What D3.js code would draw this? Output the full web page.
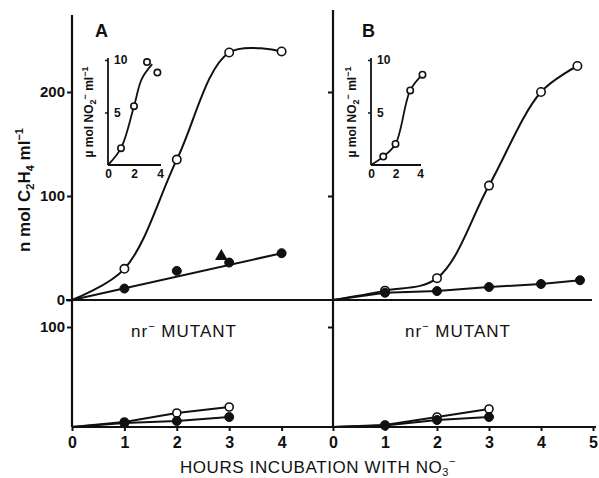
<!DOCTYPE html>
<html>
<head>
<meta charset="utf-8">
<script src="https://cdn.jsdelivr.net/npm/d3@7"></script>
<style>
  body { margin: 0; background: #fff; }
  svg { font-family: 'Liberation Sans', Arial, sans-serif; }
  .axis text { font-weight: bold; font-size: 15px; }
</style>
</head>
<body>
<div id="root"></div>
<script>
// ---- data (hours, value) ----
const hoursA = [0, 1, 2, 3, 4];
const hoursB = [0, 1, 2, 3, 4, 5];
const yTicksTop = [0, 100, 200];
const yTicksBot = [100];
const insetXTicks = [0, 2, 4];
const insetYTicks = [5, 10];

// panel A, wild type (nmol C2H4 / ml)
const openA = [[0, 0], [1, 30], [2, 135], [3, 238], [4, 239]];
const closedA = [[1, 11], [2, 28], [3, 36], [4, 45]];
const closedAFit = [[0, 0], [4, 45]];
const triA = [[2.85, 42]];

// panel B, wild type
const openB = [[0, 0], [1, 9], [2, 21], [3, 110], [4, 200], [4.7, 225]];
const closedB = [[0, 0], [1, 7], [2, 8.6], [3, 12.5], [4, 15.4], [4.75, 19]];

// nr- mutant
const mutOpenA = [[0, 0], [1, 5], [2, 14], [3, 20]];
const mutClosedA = [[0, 0], [1, 4], [2, 6], [3, 10]];
const mutOpenB = [[0, 0], [1, 2], [2, 10], [3, 18]];
const mutClosedB = [[0, 0], [1, 1.5], [2, 7], [3, 10]];

// insets (umol NO2- / ml)
const insetA = [[1, 1.6], [2, 5.6], [3, 9.8], [3.8, 8.8]];
const insetAFit = [[0, 0], [1, 1.6], [2, 5.6], [2.6, 8.2], [3.4, 9.6]];
const insetB = [[0, 0], [1, 0.8], [2, 2], [3.2, 7.1], [4.2, 8.6]];

const svg = d3.select('#root').append('svg')
  .attr('width', 599)
  .attr('height', 478);

// scales
const xA = d3.scaleLinear().domain([0, 5]).range([72, 334]);
const xB = d3.scaleLinear().domain([0, 5]).range([333, 593]);
const yTop = d3.scaleLinear().domain([0, 250]).range([300, 40]);
const yBot = d3.scaleLinear().domain([0, 100]).range([427, 327]);

const ink = '#111';

// axis lines
svg.append('line').attr('x1', 72).attr('x2', 72).attr('y1', 15).attr('y2', 427)
  .attr('stroke', ink).attr('stroke-width', 2.2);
svg.append('line').attr('x1', 333).attr('x2', 333).attr('y1', 10).attr('y2', 427)
  .attr('stroke', ink).attr('stroke-width', 2.2);
svg.append('line').attr('x1', 66).attr('x2', 592).attr('y1', yTop(0)).attr('y2', yTop(0))
  .attr('stroke', ink).attr('stroke-width', 2);
svg.append('line').attr('x1', 72).attr('x2', 596).attr('y1', 427).attr('y2', 427)
  .attr('stroke', ink).attr('stroke-width', 2.2);

// y axes
function leftAxis(scale, x, values, labels) {
  const g = svg.append('g').attr('class', 'axis')
    .attr('transform', `translate(${x},0)`)
    .call(d3.axisLeft(scale).tickValues(values).tickSize(5).tickPadding(2)
      .tickFormat(labels ? d3.format('d') : ''));
  g.select('.domain').remove();
  g.selectAll('line').attr('stroke', ink).attr('stroke-width', 2);
  g.selectAll('text').attr('fill', ink);
}
leftAxis(yTop, 72, yTicksTop, true);
leftAxis(yBot, 72, yTicksBot, true);
leftAxis(yTop, 333, [100, 200], false);
leftAxis(yBot, 333, yTicksBot, false);

// x axes
function bottomAxis(scale, values) {
  const g = svg.append('g').attr('class', 'axis')
    .attr('transform', 'translate(0,427)')
    .call(d3.axisBottom(scale).tickValues(values).tickSize(4).tickPadding(6)
      .tickFormat(d3.format('d')));
  g.select('.domain').remove();
  g.selectAll('line').attr('stroke', ink).attr('stroke-width', 2);
  g.selectAll('text').attr('fill', ink).style('font-size', '16px');
}
bottomAxis(xA, hoursA);
bottomAxis(xB, hoursB);

// series drawing
function series(xs, ys, pts, opts) {
  const line = d3.line()
    .x(d => xs(d[0])).y(d => ys(d[1]))
    .curve(opts.curve || d3.curveLinear);
  if (opts.line !== false) {
    svg.append('path').datum(opts.lineData || pts)
      .attr('d', line)
      .attr('fill', 'none')
      .attr('stroke', ink)
      .attr('stroke-width', opts.sw || 2);
  }
  const dots = opts.noDots ? [] : pts.filter(d => d[0] > 0);
  svg.append('g').selectAll('circle').data(dots)
    .enter().append('circle')
      .attr('cx', d => xs(d[0]))
      .attr('cy', d => ys(d[1]))
      .attr('r', opts.r || 4)
      .attr('fill', opts.open ? '#fff' : ink)
      .attr('stroke', ink)
      .attr('stroke-width', opts.open ? 1.6 : 1);
}

// panel A top
series(xA, yTop, closedA, { lineData: closedAFit, r: 4.5 });
svg.append('g').selectAll('path').data(triA)
  .enter().append('path')
    .attr('d', d3.symbol().type(d3.symbolTriangle).size(70))
    .attr('transform', d => `translate(${xA(d[0])},${yTop(d[1])})`)
    .attr('fill', ink);
series(xA, yTop, openA, { open: true, curve: d3.curveCatmullRom, r: 4.2 });

// panel B top
series(xB, yTop, openB, { open: true, curve: d3.curveCatmullRom, r: 4.2 });
series(xB, yTop, closedB, { r: 4.5 });

// mutants
series(xA, yBot, mutOpenA, { open: true, r: 4 });
series(xA, yBot, mutClosedA, { r: 4.5 });
series(xB, yBot, mutOpenB, { open: true, r: 4 });
series(xB, yBot, mutClosedB, { r: 4.5 });

// insets
function inset(x0, width) {
  const ix = d3.scaleLinear().domain([0, 4]).range([x0, x0 + width]);
  const iy = d3.scaleLinear().domain([0, 10]).range([165, 60]);
  svg.append('line').attr('x1', x0).attr('x2', x0).attr('y1', 58).attr('y2', 165)
    .attr('stroke', ink).attr('stroke-width', 1.8);
  svg.append('line').attr('x1', x0).attr('x2', x0 + width + 1).attr('y1', 165).attr('y2', 165)
    .attr('stroke', ink).attr('stroke-width', 1.8);
  const gx = svg.append('g').attr('transform', 'translate(0,165)')
    .call(d3.axisBottom(ix).tickValues(insetXTicks).tickSize(0).tickPadding(4)
      .tickFormat(d3.format('d')));
  gx.select('.domain').remove();
  gx.selectAll('text').attr('fill', ink).style('font-size', '12px').style('font-weight', 'bold');
  const gy = svg.append('g').attr('transform', `translate(${x0},0)`)
    .call(d3.axisRight(iy).tickValues(insetYTicks).tickSize(-3).tickPadding(6)
      .tickFormat(d3.format('d')));
  gy.select('.domain').remove();
  gy.selectAll('line').attr('stroke', ink).attr('stroke-width', 1.5);
  gy.selectAll('text').attr('fill', ink).style('font-size', '12px').style('font-weight', 'bold');
  const t = svg.append('text')
    .attr('transform', `translate(${x0 - 15},112) rotate(-90)`)
    .attr('text-anchor', 'middle')
    .attr('font-size', 12).attr('font-weight', 'bold').attr('fill', ink);
  t.append('tspan').text('\u00b5 mol NO');
  t.append('tspan').attr('font-size', 9).attr('dy', 3).text('2');
  t.append('tspan').attr('font-size', 9).attr('dy', -8).text('\u2212');
  t.append('tspan').attr('dy', 5).text(' ml');
  t.append('tspan').attr('font-size', 9).attr('dy', -5).text('\u22121');
  return { ix, iy };
}
const sa = inset(108, 52);
series(sa.ix, sa.iy, insetAFit, { curve: d3.curveCatmullRom, noDots: true, sw: 1.8 });
series(sa.ix, sa.iy, insetA, { open: true, line: false, r: 3.2 });
const sb = inset(371, 49);
series(sb.ix, sb.iy, insetB, { open: true, curve: d3.curveCatmullRom, r: 3.2, sw: 1.8 });

// panel letters
svg.append('text').attr('x', 95).attr('y', 37).attr('font-size', 18).attr('font-weight', 'bold')
  .attr('fill', ink).text('A');
svg.append('text').attr('x', 362).attr('y', 37).attr('font-size', 18).attr('font-weight', 'bold')
  .attr('fill', ink).text('B');

// mutant labels
[184, 458].forEach(cx => {
  const t = svg.append('text').attr('x', cx).attr('y', 337)
    .attr('text-anchor', 'middle').attr('font-size', 17).attr('fill', ink)
    .attr('letter-spacing', 1);
  t.append('tspan').text('nr');
  t.append('tspan').attr('font-size', 11).attr('dy', -7).text('\u2212');
  t.append('tspan').attr('dy', 7).text('  MUTANT');
});

// x axis title
const xt = svg.append('text').attr('x', 318).attr('y', 473)
  .attr('text-anchor', 'middle').attr('font-size', 17).attr('fill', ink)
  .attr('letter-spacing', 0.6);
xt.append('tspan').text('HOURS  INCUBATION  WITH  NO');
xt.append('tspan').attr('font-size', 11).attr('dy', 3).text('3');
xt.append('tspan').attr('font-size', 11).attr('dy', -11).text('\u2212');

// y axis title
const yt = svg.append('text')
  .attr('transform', 'translate(30,190) rotate(-90)')
  .attr('text-anchor', 'middle').attr('font-size', 17).attr('font-weight', 'bold').attr('fill', ink);
yt.append('tspan').text('n mol C');
yt.append('tspan').attr('font-size', 11).attr('dy', 4).text('2');
yt.append('tspan').attr('dy', -4).text('H');
yt.append('tspan').attr('font-size', 11).attr('dy', 4).text('4');
yt.append('tspan').attr('dy', -4).text(' ml');
yt.append('tspan').attr('font-size', 11).attr('dy', -7).text('\u22121');
</script>
</body>
</html>
